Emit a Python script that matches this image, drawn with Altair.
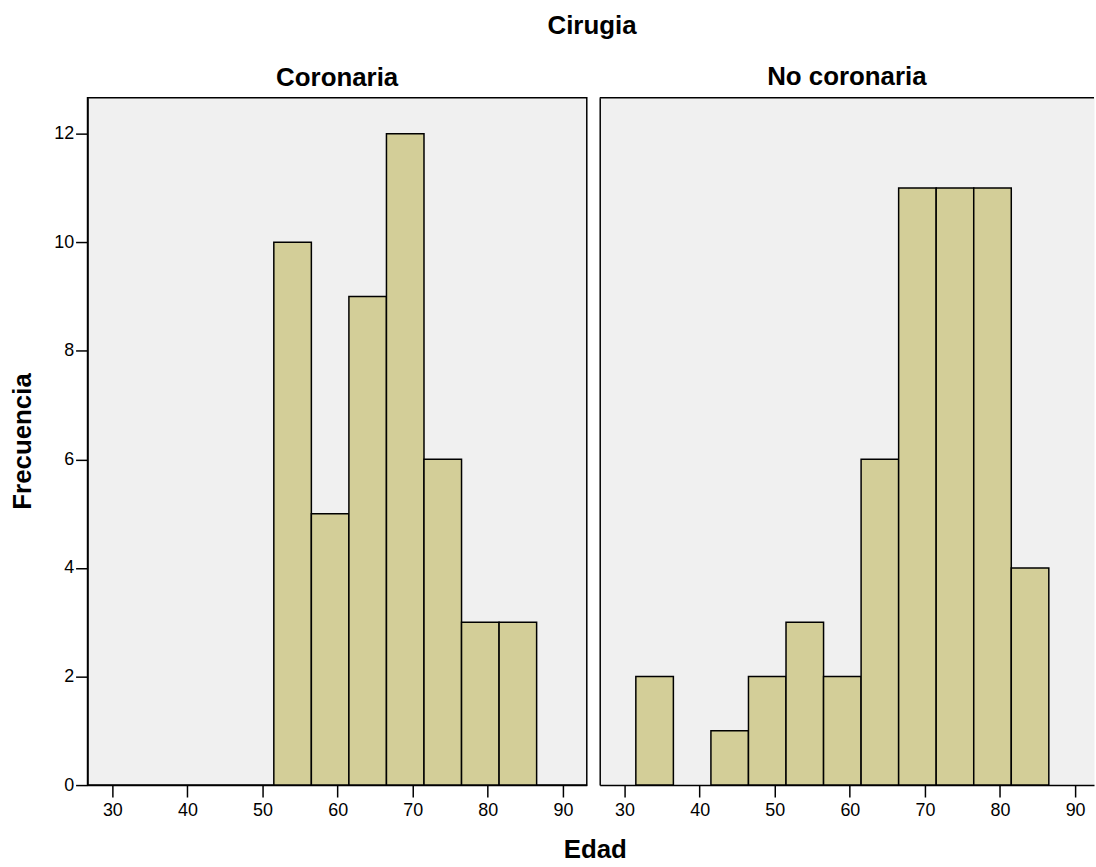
import altair as alt
import pandas as pd

# ---- data ----
bin_width = 5
coronaria_start = [51.5, 56.5, 61.5, 66.5, 71.5, 76.5, 81.5]
coronaria_count = [10, 5, 9, 12, 6, 3, 3]
nocoronaria_start = [31.5, 41.5, 46.5, 51.5, 56.5, 61.5, 66.5, 71.5, 76.5, 81.5]
nocoronaria_count = [2, 1, 2, 3, 2, 6, 11, 11, 11, 4]
x_ticks = [30, 40, 50, 60, 70, 80, 90]
y_ticks = [0, 2, 4, 6, 8, 10, 12]

df_c = pd.DataFrame({"start": coronaria_start, "count": coronaria_count})
df_c["end"] = df_c["start"] + bin_width
df_n = pd.DataFrame({"start": nocoronaria_start, "count": nocoronaria_count})
df_n["end"] = df_n["start"] + bin_width

FONT = "Liberation Sans"
BAR = "#d3ce98"
BG = "#f0f0f0"
W_LEFT = 502
W_RIGHT = 497
H = 691
TFS = 26

ydom = [0, 12.66]
xdom_left = [26.69, 93.18]
xdom_right = [26.69, 26.69 + (93.18 - 26.69) * W_RIGHT / W_LEFT]

common_axis = dict(
    domainColor="black", domainWidth=1.5, tickColor="black", tickWidth=1.5,
    tickSize=12, labelColor="black", labelFont=FONT, labelFontSize=18,
    grid=False, titleFont=FONT, titleFontSize=TFS, titleFontWeight="bold",
    titleColor="black",
)

x_axis_left = alt.Axis(values=x_ticks, title="Edad", titleX=510, titleY=73,
                       titleAlign="center", titleBaseline="alphabetic",
                       labelPadding=5, **common_axis)
x_axis_right = alt.Axis(values=x_ticks, title="", labelPadding=5, **common_axis)
y_axis_left = alt.Axis(values=y_ticks, title="Frecuencia", titleX=-57, titleY=345,
                       titleAngle=270, titleAlign="center", titleBaseline="alphabetic",
                       labelPadding=2, **common_axis)
y_axis_right = alt.Axis(values=y_ticks, title="", labels=False, ticks=False, **common_axis)


def bars(df, xdom, xaxis, yaxis):
    return alt.Chart(df).mark_bar(color=BAR, stroke="black", strokeWidth=1.5, opacity=1).encode(
        x=alt.X("start:Q", scale=alt.Scale(domain=xdom, nice=False, zero=False), axis=xaxis),
        x2="end:Q",
        y=alt.Y("count:Q", scale=alt.Scale(domain=ydom, nice=False, zero=True), axis=yaxis),
        y2=alt.datum(0),
    )


def panel_title(text):
    return alt.TitleParams(text, font=FONT, fontSize=TFS, fontWeight="bold", color="black",
                           anchor="middle", offset=7)


left = bars(df_c, xdom_left, x_axis_left, y_axis_left).properties(
    width=W_LEFT, height=H, title=panel_title("Coronaria"),
    view=alt.ViewBackground(fill=BG, stroke="black", strokeWidth=1.5),
)

top_border = alt.Chart(pd.DataFrame({"k": [0]})).mark_rule(color="black", strokeWidth=1.5).encode(
    x=alt.value(0), x2=alt.value(W_RIGHT), y=alt.value(0)
)

right = alt.layer(
    bars(df_n, xdom_right, x_axis_right, y_axis_right), top_border
).properties(
    width=W_RIGHT, height=H, title=panel_title("No coronaria"),
    view=alt.ViewBackground(fill=BG, stroke="transparent"),
)

chart = alt.hconcat(left, right, spacing=13, bounds="flush").properties(
    title=alt.TitleParams("Cirugia", font=FONT, fontSize=TFS, fontWeight="bold", color="black",
                          anchor="middle", dx=40, offset=25),
    padding={"left": 9, "top": 10, "right": 0, "bottom": 0},
    background="white",
)

chart.save("out.html", embed_options={"renderer": "svg", "actions": False})
